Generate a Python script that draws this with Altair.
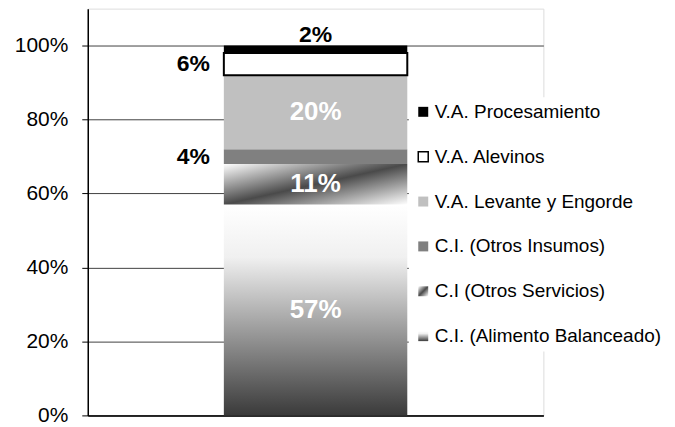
import altair as alt
import pandas as pd

# Data (stack order from bottom to top)
categories = [
    "C.I. (Alimento Balanceado)",
    "C.I (Otros Servicios)",
    "C.I. (Otros Insumos)",
    "V.A. Levante y Engorde",
    "V.A. Alevinos",
    "V.A. Procesamiento",
]
values = [57, 11, 4, 20, 6, 2]
label_pos = ["in", "in", "left", "in", "left", "top"]
y_ticks = [0, 20, 40, 60, 80, 100]

df = pd.DataFrame({
    "x": ["Cadena"] * len(categories),
    "cat": categories,
    "value": values,
    "order": list(range(len(categories))),
    "pos": label_pos,
    "label": [f"{v}%" for v in values],
})

FONT = "Liberation Sans"

grad_alimento = ("{gradient:'linear',x1:0,y1:0,x2:0,y2:1,stops:["
                 "{offset:0,color:'#ffffff'},{offset:0.25,color:'#f0f0f0'},"
                 "{offset:1,color:'#3a3a3a'}]}")
grad_servicios = ("{gradient:'linear',x1:0,y1:0,x2:1,y2:1,stops:["
                  "{offset:0,color:'#ffffff'},{offset:0.5,color:'#4a4a4a'},"
                  "{offset:1,color:'#ffffff'}]}")

legend_domain = list(reversed(categories))
fill_range = [
    "#000000",
    "#ffffff",
    "#c0c0c0",
    "#808080",
    alt.ExprRef(expr=grad_servicios),
    alt.ExprRef(expr=grad_alimento),
]
stroke_range = ["transparent", "#000000", "transparent", "transparent", "transparent", "transparent"]

legend_cfg = dict(
    orient="none",
    legendX=322,
    legendY=89,
    fillColor="white",
    padding=5,
    title=None,
    labelFont=FONT,
    labelFontSize=19,
    labelColor="black",
    labelLimit=0,
    symbolType="square",
    symbolSize=100,
    symbolStrokeWidth=1.5,
    rowPadding=25,
    labelOffset=2,
)

base = alt.Chart(df).transform_stack(
    stack="value", groupby=["x"], sort=[alt.SortField("order")], as_=["y0", "y1"]
).transform_calculate(mid="(datum.y0 + datum.y1) / 2")

x_enc = alt.X("x:N", axis=alt.Axis(labels=False, ticks=False, title=None,
                                    domainColor="black", domainWidth=1.5))

bars = base.mark_bar(size=184, strokeWidth=2).encode(
    x=x_enc,
    y=alt.Y("y0:Q", scale=alt.Scale(domain=[0, 110], nice=False),
            axis=alt.Axis(values=y_ticks, labelExpr="datum.value + '%'", title=None,
                          grid=True, gridColor="#404040", gridWidth=1,
                          domainColor="black", domainWidth=1.5,
                          tickColor="black", tickSize=6,
                          labelFont=FONT, labelFontSize=21, labelColor="black",
                          labelPadding=14)),
    y2="y1:Q",
    fill=alt.Fill("cat:N", scale=alt.Scale(domain=legend_domain, range=fill_range),
                  legend=alt.Legend(**legend_cfg)),
    stroke=alt.Stroke("cat:N", scale=alt.Scale(domain=legend_domain, range=stroke_range),
                      legend=alt.Legend(**legend_cfg)),
)

txt_in = base.transform_filter("datum.pos == 'in'").mark_text(
    font=FONT, fontSize=26, fontWeight="bold", color="white", baseline="middle"
).encode(x=x_enc, y="mid:Q", text="label:N")

txt_left = base.transform_filter("datum.pos == 'left'").mark_text(
    font=FONT, fontSize=23, fontWeight="bold", color="black", baseline="middle",
    align="right", dx=-106
).encode(x=x_enc, y="mid:Q", text="label:N")

txt_top = base.transform_filter("datum.pos == 'top'").mark_text(
    font=FONT, fontSize=23, fontWeight="bold", color="black", baseline="alphabetic", dy=-4
).encode(x=x_enc, y="y1:Q", text="label:N")

chart = alt.layer(bars, txt_in, txt_left, txt_top).properties(
    width=457, height=408, padding={"left": 6, "top": 0, "right": 0, "bottom": 0}
).configure_view(stroke="#808080", strokeWidth=1).configure(background="white")

chart.save("out.html", embed_options={"renderer": "svg", "actions": False})
